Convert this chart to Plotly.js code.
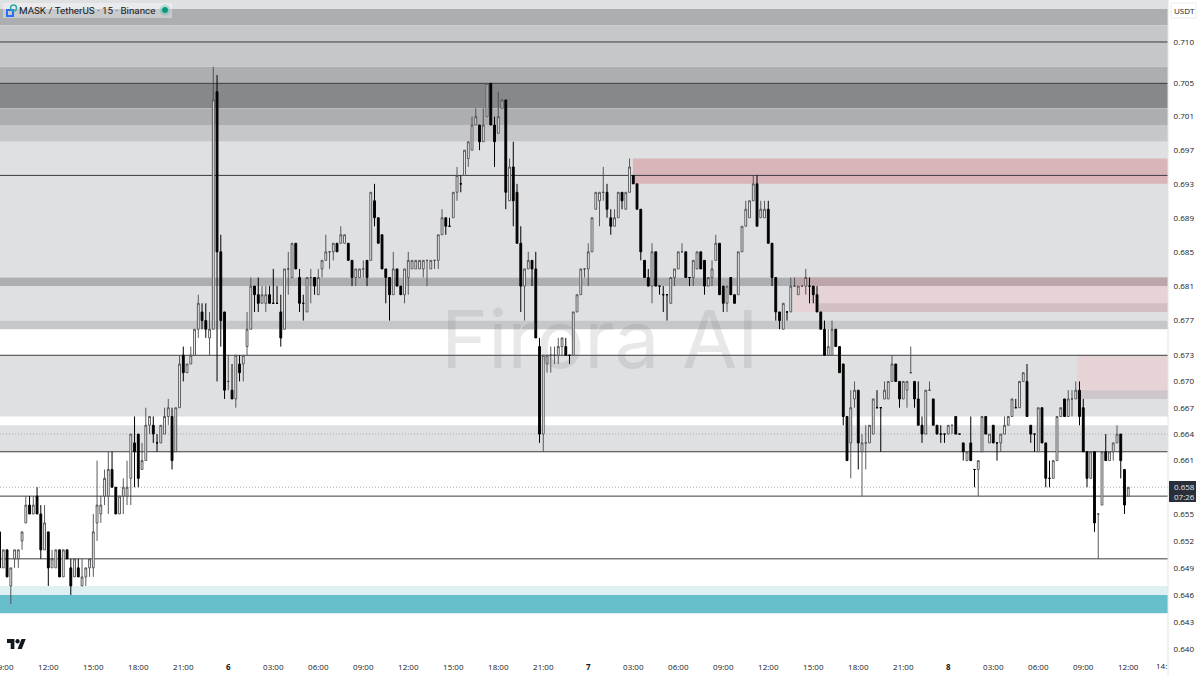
<!DOCTYPE html>
<html>
<head>
<meta charset="utf-8">
<script src="https://cdn.plot.ly/plotly-3.0.1.min.js"></script>
<style>html,body{margin:0;padding:0;background:#fff}#chart{width:1200px;height:675px}</style>
</head>
<body>
<div id="chart"></div>
<script>
// Prices are in thousandths of a USDT (the pair trades in 0.001 steps). First bar is index -13, index 0 = 12:00 on the 5th.
const firstBar = -13;
const openMilli = [
653,649,651,647,650,650,652,654,656,655,657,655,651,
653,649,649,651,648,651,649,648,649,647,
648,649,649,654,655,657,657,660,658,655,
657,657,659,663,664,660,661,665,665,663,
663,664,666,666,662,667,673,671,672,673,
676,678,677,675,676,704,685,678,670,669,
668,672,672,674,676,681,680,679,679,680,
679,679,678,676,683,682,686,682,679,678,
682,682,680,683,684,685,685,686,686,686,
686,684,682,682,683,684,684,691,689,687,
683,682,680,683,681,680,682,683,683,683,
683,684,683,684,684,687,689,688,689,692,
693,694,696,697,700,700,698,701,705,700,
699,702,703,691,695,692,686,681,683,684,
683,674,664,672,673,673,673,674,674,673,
673,678,680,683,683,685,690,691,692,692,
689,688,689,692,690,692,694,693,690,684,
682,681,685,681,680,680,679,682,683,685,
685,682,682,683,685,684,681,682,684,686,
681,679,682,680,680,685,688,689,691,693,
689,689,690,686,682,678,676,678,678,681,
680,681,681,681,681,680,678,676,673,673,
676,674,672,666,663,668,669,662,663,663,
664,667,667,668,668,670,672,670,668,669,
671,670,668,665,664,669,668,665,664,664,
664,665,666,664,663,661,663,660,660,662,
666,663,665,663,663,664,665,666,667,667,
670,670,665,664,662,667,663,659,659,661,
666,668,666,668,668,669,667,662,659,662,
655,656,662,661,662,663,664,660,657];
const highMilli = [
653,651,651,649,651,651,653,657,657,657,658,656,656,
653,651,651,651,651,651,650,650,650,650,
649,650,655,661,657,660,662,662,658,657,
659,661,664,666,664,663,667,666,666,664,
665,667,668,667,667,673,674,672,674,676,
680,679,679,678,707,706,687,678,673,672,
673,673,673,678,682,681,682,681,681,681,
683,681,680,683,685,686,686,683,680,682,
683,682,683,684,687,685,686,686,688,687,
686,684,683,683,684,684,692,693,689,687,
683,682,685,683,681,683,685,684,684,684,
684,684,684,684,687,690,689,689,692,695,
694,697,698,701,702,700,702,705,705,701,
704,703,703,696,698,693,688,683,685,684,
685,675,673,673,674,674,675,675,675,673,
678,680,683,683,686,689,692,692,695,693,
690,690,692,692,692,696,694,693,690,684,
683,686,685,681,681,680,682,683,685,686,
685,682,684,685,685,684,682,684,687,686,
681,681,682,680,685,688,691,691,694,694,
691,691,691,686,682,678,679,678,682,682,
681,681,683,682,681,681,678,677,676,677,
676,674,672,666,669,670,669,664,665,665,
668,669,667,670,670,673,672,670,670,670,
674,670,670,666,669,670,668,665,665,664,
665,665,666,664,663,662,666,660,661,666,
666,664,665,663,664,666,666,668,668,670,
671,672,665,664,667,667,663,661,661,666,
667,668,669,669,670,670,668,662,662,662,
655,662,664,662,663,665,664,660,658];
const lowMilli = [
649,649,648,645,649,649,651,654,655,655,655,650,651,
647,649,649,648,648,650,646,648,648,647,
647,648,648,652,654,656,655,658,655,655,
655,656,656,658,658,660,661,664,663,662,
663,664,665,660,662,667,670,671,672,673,
675,676,675,673,676,670,674,668,669,668,
667,670,670,673,676,678,678,679,678,679,
679,679,674,676,680,682,683,678,677,678,
679,680,680,682,684,683,684,685,686,686,
684,681,681,682,682,681,684,688,686,683,
679,677,680,681,680,679,680,683,683,683,
682,681,683,683,683,687,687,688,689,691,
692,694,695,697,700,697,698,701,700,695,
699,702,690,691,688,686,678,677,683,681,
675,663,662,671,671,672,672,673,673,672,
673,678,680,682,681,685,690,688,691,689,
687,688,689,690,690,692,693,690,684,682,
681,679,681,680,678,677,679,681,683,685,
682,681,681,683,683,680,681,681,684,680,
678,678,680,679,680,685,688,689,691,688,
689,689,686,681,677,676,676,677,678,681,
680,681,680,679,679,678,676,673,673,673,
674,671,665,661,659,667,660,657,660,663,
664,667,662,668,668,670,670,667,668,667,
671,667,665,663,664,669,665,664,663,663,
664,664,664,664,661,661,661,658,657,662,
664,663,663,661,662,664,665,666,667,667,
670,666,663,662,662,663,658,658,659,661,
666,666,666,666,668,665,662,658,659,653,
650,656,661,661,661,663,659,655,657];
const closeMilli = [
649,651,648,649,651,651,653,656,655,656,655,651,654,
649,650,651,648,651,650,647,650,648,648,
649,650,653,656,656,659,660,658,655,657,
658,658,664,662,659,661,665,666,664,663,
665,666,667,661,667,672,671,672,673,676,
679,677,676,676,703,685,677,669,670,668,
673,671,673,676,681,680,679,680,680,679,
679,679,675,683,683,686,683,679,679,682,
682,681,682,684,685,685,686,685,687,687,
684,682,683,683,683,682,692,689,686,683,
682,680,683,681,680,683,684,684,684,684,
684,684,684,684,687,689,688,688,692,694,
693,697,698,700,701,698,700,705,700,698,
701,703,692,695,691,686,681,683,684,683,
675,664,673,673,673,673,674,675,673,673,
678,680,683,683,685,689,692,692,692,690,
688,689,692,691,692,695,693,690,685,682,
681,685,681,681,680,680,682,683,685,685,
682,682,684,685,683,681,682,683,686,680,
679,681,680,679,685,688,690,691,693,688,
690,690,686,682,678,677,679,678,681,681,
681,681,682,681,680,678,676,673,674,676,
674,671,666,661,667,669,663,663,663,665,
668,667,667,669,670,672,670,668,670,670,
671,668,665,664,669,669,665,664,664,664,
665,665,664,664,662,662,661,660,661,666,
664,664,663,663,664,665,666,668,667,670,
671,666,664,664,667,663,659,659,661,666,
667,666,668,668,669,666,662,659,662,654,
655,662,661,662,663,664,661,656,658];

const timeLabels = ["09:00","12:00","15:00","18:00","21:00","6","03:00","06:00","09:00","12:00","15:00","18:00","21:00","7","03:00","06:00","09:00","12:00","15:00","18:00","21:00","8","03:00","06:00","09:00","12:00"];
const timeLabelBars = [-12,0,12,24,36,48,60,72,84,96,108,120,132,144,156,168,180,192,204,216,228,240,252,264,276,288];
const priceTicks = [0.710,0.705,0.701,0.697,0.693,0.689,0.685,0.681,0.677,0.673,0.670,0.667,0.664,0.661,0.655,0.652,0.649,0.646,0.643,0.640];
const levelLines = [0.710,0.705,0.694,0.673,0.662,0.657,0.650];
const dottedLines = [0.664,0.658];
// [upper price, lower price, colour]
const zones = [
 [0.7152,0.714,'#dfe0e2'],[0.714,0.712,'#adaeb2'],[0.712,0.707,'#c6c7ca'],[0.707,0.705,'#adaeb1'],
 [0.705,0.702,'#86888c'],[0.702,0.700,'#adaeb2'],[0.700,0.698,'#c6c7ca'],[0.698,0.682,'#dfe0e2'],
 [0.682,0.681,'#adaeb1'],[0.681,0.677,'#dfe0e2'],[0.677,0.676,'#c6c7ca'],[0.673,0.666,'#dfe0e2'],
 [0.665,0.662,'#dfe0e2'],[0.647,0.646,'#dff0f3'],[0.646,0.644,'#67bfcb']];
// [first bar, upper price, lower price, colour]
const redZones = [
 [155.9,0.696,0.693,'#d9b5ba'],
 [198.6,0.682,0.681,'#bda6aa'],[198.6,0.681,0.678,'#e6d3d5'],[205.2,0.679,0.678,'#d2bfc3'],
 [274.3,0.673,0.669,'#e6d3d5'],[274.3,0.669,0.668,'#cfc6cb']];

const barIndex = openMilli.map((_, i) => firstBar + i);
const toPrice = a => a.map(v => v / 1000);
const xMin = -12.88, xMax = 298.6;
const W = 1168, H = 655;
const px = x => x / W, py = y => (H - y) / H;
const FONT = '"Open Sans", "Noto Sans", sans-serif';

const shapes = [];
zones.forEach(z => shapes.push({type:'rect',layer:'below',xref:'x',yref:'y',x0:xMin,x1:xMax,y0:z[1],y1:z[0],fillcolor:z[2],line:{width:0}}));
redZones.forEach(z => shapes.push({type:'rect',layer:'below',xref:'x',yref:'y',x0:z[0],x1:xMax,y0:z[2],y1:z[1],fillcolor:z[3],line:{width:0}}));
dottedLines.forEach(p => shapes.push({type:'line',layer:'below',xref:'x',yref:'y',x0:xMin,x1:xMax,y0:p,y1:p,line:{color:'#a8a9ad',width:1,dash:'1px,2px'}}));
levelLines.forEach(p => shapes.push({type:'line',layer:'below',xref:'x',yref:'y',x0:xMin,x1:xMax,y0:p,y1:p,line:{color:'#3c3c40',width:1}}));
// legend header, price-scale chrome
shapes.push({type:'rect',xref:'paper',yref:'paper',x0:px(3),x1:px(172),y0:py(18),y1:py(3),fillcolor:'rgba(255,255,255,0.35)',line:{width:0}});
shapes.push({type:'rect',xref:'paper',yref:'paper',x0:px(7),x1:px(13),y0:py(16),y1:py(10),fillcolor:'rgba(0,0,0,0)',line:{color:'#2a6df4',width:2}});
shapes.push({type:'circle',xref:'paper',yref:'paper',x0:px(10.5),x1:px(16.5),y0:py(11),y1:py(5),fillcolor:'rgba(0,0,0,0)',line:{color:'#2aa6a0',width:1.5}});
shapes.push({type:'circle',xref:'paper',yref:'paper',x0:px(159.5),x1:px(170.5),y0:py(15.5),y1:py(4.5),fillcolor:'rgba(8,153,129,0.2)',line:{width:0}});
shapes.push({type:'circle',xref:'paper',yref:'paper',x0:px(162),x1:px(168),y0:py(13),y1:py(7),fillcolor:'#089981',line:{width:0}});
shapes.push({type:'line',xref:'paper',yref:'paper',x0:1,x1:1,y0:-0.03,y1:1,line:{color:'#e3e4e6',width:1}});
shapes.push({type:'rect',xref:'paper',yref:'paper',x0:px(1171),x1:px(1196),y0:py(18),y1:py(3),fillcolor:'#ffffff',line:{color:'#eceded',width:1}});
shapes.push({type:'rect',xref:'paper',yref:'paper',x0:px(1169),x1:px(1196),y0:py(502),y1:py(481),fillcolor:'#2a2e39',line:{width:0}});

const note = (text,x,y,size,color,anchor,family) => ({text,xref:'paper',yref:'paper',x:px(x),y:py(y),xanchor:anchor||'left',yanchor:'middle',showarrow:false,font:{family:family||FONT,size,color},borderpad:0,captureevents:false});

const annotations = [
 {text:'Firora AI',xref:'paper',yref:'paper',x:px(600),y:py(338),xanchor:'center',yanchor:'middle',showarrow:false,font:{family:'Inter, Roboto, sans-serif',size:80,color:'rgba(110,110,118,0.16)'}},
 note('MASK / TetherUS · 15 · Binance',18,10.5,9.8,'#131722','left','Roboto, sans-serif'),
 note('USDT',1173,10.5,8,'#131722'),
 note('0.658<br>07:26',1173,491.5,8,'#e8e9ec'),
 note('14:',1168,665.5,8,'#131722','right')
];

const logo = 'data:image/svg+xml;utf8,' + encodeURIComponent('<svg xmlns="http://www.w3.org/2000/svg" viewBox="0 4 36 18"><path d="M14 22H7V11H0V4h14v18zM28 22h-8l7.5-18h8L28 22z" fill="#131722"/><circle cx="20" cy="8" r="4" fill="#131722"/></svg>');

const trace = {
 type:'candlestick', x:barIndex,
 open:toPrice(openMilli), high:toPrice(highMilli), low:toPrice(lowMilli), close:toPrice(closeMilli),
 increasing:{line:{color:'#4a4a4e',width:0.9},fillcolor:'#ffffff'},
 decreasing:{line:{color:'#000000',width:1},fillcolor:'#000000'},
 whiskerwidth:0, width:0.72, hoverinfo:'skip', showlegend:false
};

const layout = {
 width:1200,height:675,
 margin:{l:0,r:32,t:0,b:20,pad:0},
 paper_bgcolor:'#ffffff',plot_bgcolor:'#ffffff',showlegend:false,dragmode:false,
 xaxis:{type:'linear',range:[xMin,xMax],rangeslider:{visible:false},tickmode:'array',tickvals:timeLabelBars,ticktext:timeLabels.map((t,i)=>t.length===1?'<b>'+t+'</b>':t),
  showgrid:false,zeroline:false,showline:false,ticks:'outside',ticklen:4,tickcolor:'rgba(0,0,0,0)',tickangle:0,ticklabeloverflow:'allow',tickfont:{family:FONT,size:8,color:'#131722'}},
 yaxis:{type:'log',side:'right',range:[Math.log10(0.63941),Math.log10(0.71511)],tickmode:'array',tickvals:priceTicks,ticktext:priceTicks.map(v=>v.toFixed(3)),
  showgrid:false,zeroline:false,showline:false,ticks:'outside',ticklen:3,tickcolor:'rgba(0,0,0,0)',tickfont:{family:FONT,size:8,color:'#131722'}},
 shapes,annotations,
 images:[{source:logo,xref:'paper',yref:'paper',x:px(7),y:py(639),sizex:px(19),sizey:10/H,xanchor:'left',yanchor:'top',sizing:'stretch',layer:'above'}]
};
Plotly.newPlot('chart',[trace],layout,{displayModeBar:false,staticPlot:true});
</script>
</body>
</html>
